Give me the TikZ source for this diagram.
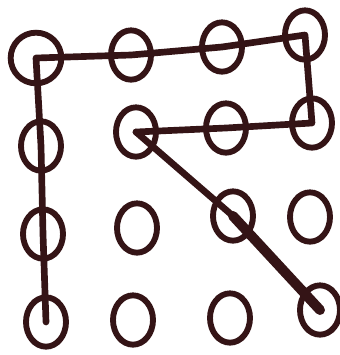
\documentclass[tikz,border=0pt]{standalone}
\usetikzlibrary{shapes.geometric}
\definecolor{ink}{RGB}{52,20,22}
\begin{document}
\begin{tikzpicture}[
  x=0.75pt, y=-0.75pt,
  dot/.style={draw=ink, line width=4.4pt, ellipse, minimum width=30, minimum height=37, inner sep=0pt},
  bigdot/.style={dot, minimum width=38, minimum height=38},
  trail/.style={draw=ink, line width=5pt, line cap=round, line join=round},
  heavy/.style={trail, line width=7.5pt}
]
\useasboundingbox (0,0) rectangle (340,355);
% grid of dots
\node[bigdot] (d11) at (36,58) {};
\node[dot] (d12) at (131,55) {};
\node[dot] (d13) at (222,47) {};
\node[dot] (d14) at (305,35) {};
\node[dot] (d21) at (41,146) {};
\node[dot] (d22) at (136,132) {};
\node[dot] (d23) at (226,128) {};
\node[dot] (d24) at (312,123) {};
\node[dot] (d31) at (43,234) {};
\node[dot] (d32) at (137,228) {};
\node[dot] (d33) at (233,216) {};
\node[dot] (d34) at (310,217) {};
\node[dot] (d41) at (46,322) {};
\node[dot] (d42) at (133,320) {};
\node[dot] (d43) at (230,318) {};
\node[dot] (d44) at (320,310) {};
% unlock path
\draw[trail] (d41.center) -- (d31.center) -- (d21.center) -- (d11.center)
  -- (d12.center) -- (d13.center) -- (d14.center) -- (d24.center)
  -- (d23.center) -- (d22.center);
\draw[trail] (d22.center) -- (d33.center);
\draw[heavy] (d33.center) -- (d44.center);
\end{tikzpicture}
\end{document}
